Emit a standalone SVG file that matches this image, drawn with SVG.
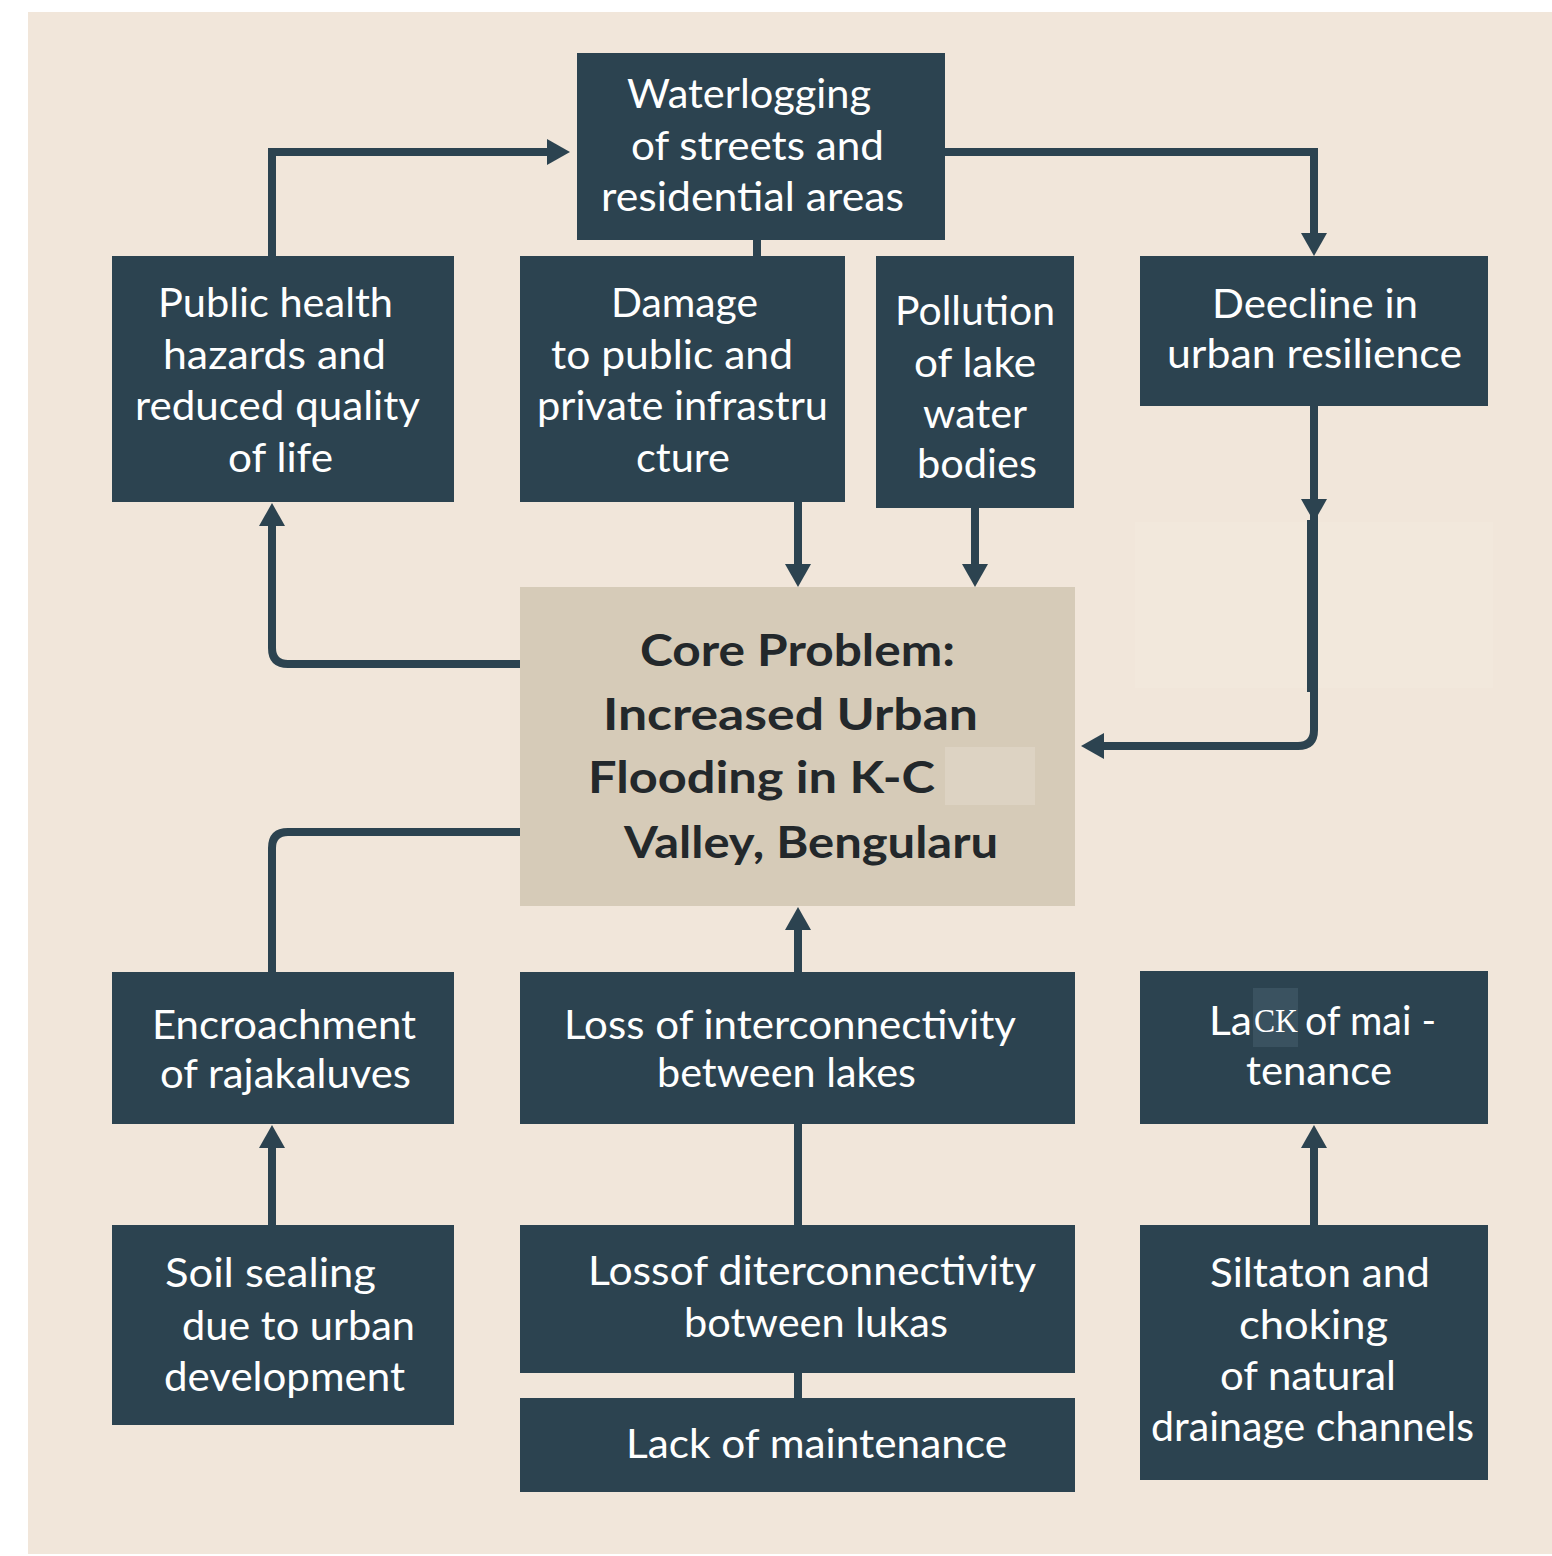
<svg xmlns="http://www.w3.org/2000/svg" width="1552" height="1556" viewBox="0 0 1552 1556">
<defs>
<style>
.node{fill:#2C4350;}
.core{fill:#D6CBB8;}
.t{font-family:Lato,"Open Sans","Noto Sans",sans-serif;font-size:40px;fill:#FFFFFF;}
.tc{font-family:Lato,"Open Sans","Noto Sans",sans-serif;font-size:44px;font-weight:bold;fill:#23282B;}
.ts{font-family:"Liberation Serif","DejaVu Serif",serif;font-size:34px;fill:#FFFFFF;}
.c{fill:none;stroke:#2C4350;stroke-width:8;}
</style>
<marker id="ah" markerUnits="userSpaceOnUse" markerWidth="24" markerHeight="26" refX="0" refY="13" orient="auto">
<path d="M0,0 L23,13 L0,26 Z" fill="#2C4350"/>
</marker>
</defs>
<rect x="0" y="0" width="1552" height="1556" fill="#FFFFFF"/>
<rect x="28" y="12" width="1524" height="1542" fill="#F1E6DA"/>
<rect x="1135" y="522" width="358" height="166" fill="#F2E8DC"/>

<g id="connectors">
<path class="c" d="M272,256 V152 H547" marker-end="url(#ah)"/>
<path class="c" d="M945,152 H1314 V233" marker-end="url(#ah)"/>
<path class="c" d="M757,240 V256"/>
<path class="c" d="M798,502 V564" marker-end="url(#ah)"/>
<path class="c" d="M975,508 V564" marker-end="url(#ah)"/>
<path class="c" d="M1314,406 V499" marker-end="url(#ah)"/>
<path class="c" d="M1314,499 V730 Q1314,746 1298,746 H1104" marker-end="url(#ah)"/>
<path class="c" d="M1312,520 V692" style="stroke-width:10"/>
<path class="c" d="M520,664 H288 Q272,664 272,648 V526" marker-end="url(#ah)"/>
<path class="c" d="M520,832 H288 Q272,832 272,848 V972"/>
<path class="c" d="M798,972 V930" marker-end="url(#ah)"/>
<path class="c" d="M272,1225 V1148" marker-end="url(#ah)"/>
<path class="c" d="M798,1124 V1225"/>
<path class="c" d="M798,1373 V1398"/>
<path class="c" d="M1314,1225 V1148" marker-end="url(#ah)"/>
</g>

<g id="waterlogging">
<rect class="node" x="577" y="53" width="368" height="187"/>
<text class="t" x="627" y="108" textLength="244" lengthAdjust="spacingAndGlyphs">Waterlogging</text>
<text class="t" x="631" y="160" textLength="253" lengthAdjust="spacingAndGlyphs">of streets and</text>
<text class="t" x="601" y="211" textLength="303" lengthAdjust="spacingAndGlyphs">residential areas</text>
</g>

<g id="public-health">
<rect class="node" x="112" y="256" width="342" height="246"/>
<text class="t" x="158" y="317" textLength="235" lengthAdjust="spacingAndGlyphs">Public health</text>
<text class="t" x="163" y="369" textLength="223" lengthAdjust="spacingAndGlyphs">hazards and</text>
<text class="t" x="135" y="420" textLength="285" lengthAdjust="spacingAndGlyphs">reduced quality</text>
<text class="t" x="228" y="472" textLength="105" lengthAdjust="spacingAndGlyphs">of life</text>
</g>

<g id="damage">
<rect class="node" x="520" y="256" width="325" height="246"/>
<text class="t" x="611" y="317" textLength="147" lengthAdjust="spacingAndGlyphs">Damage</text>
<text class="t" x="551" y="369" textLength="242" lengthAdjust="spacingAndGlyphs">to public and</text>
<text class="t" x="537" y="420" textLength="291" lengthAdjust="spacingAndGlyphs">private infrastru</text>
<text class="t" x="636" y="472" textLength="94" lengthAdjust="spacingAndGlyphs">cture</text>
</g>

<g id="pollution">
<rect class="node" x="876" y="256" width="198" height="252"/>
<text class="t" x="895" y="325" textLength="160" lengthAdjust="spacingAndGlyphs">Pollution</text>
<text class="t" x="914" y="377" textLength="122" lengthAdjust="spacingAndGlyphs">of lake</text>
<text class="t" x="923" y="428" textLength="104" lengthAdjust="spacingAndGlyphs">water</text>
<text class="t" x="917" y="478" textLength="120" lengthAdjust="spacingAndGlyphs">bodies</text>
</g>

<g id="decline">
<rect class="node" x="1140" y="256" width="348" height="150"/>
<text class="t" x="1212" y="318" textLength="206" lengthAdjust="spacingAndGlyphs">Deecline in</text>
<text class="t" x="1167" y="368" textLength="295" lengthAdjust="spacingAndGlyphs">urban resilience</text>
</g>

<g id="core-problem">
<rect class="core" x="520" y="587" width="555" height="319"/>
<rect x="945" y="747" width="90" height="58" fill="#DDD3C3"/>
<text class="tc" x="640" y="666" textLength="315" lengthAdjust="spacingAndGlyphs">Core Problem:</text>
<text class="tc" x="603" y="730" textLength="375" lengthAdjust="spacingAndGlyphs">Increased Urban</text>
<text class="tc" x="588" y="793" textLength="347" lengthAdjust="spacingAndGlyphs">Flooding in K-C</text>
<text class="tc" x="624" y="858" textLength="374" lengthAdjust="spacingAndGlyphs">Valley, Bengularu</text>
</g>

<g id="encroachment">
<rect class="node" x="112" y="972" width="342" height="152"/>
<text class="t" x="152" y="1039" textLength="264" lengthAdjust="spacingAndGlyphs">Encroachment</text>
<text class="t" x="160" y="1088" textLength="251" lengthAdjust="spacingAndGlyphs">of rajakaluves</text>
</g>

<g id="loss-interconnectivity">
<rect class="node" x="520" y="972" width="555" height="152"/>
<text class="t" x="564" y="1039" textLength="452" lengthAdjust="spacingAndGlyphs">Loss of interconnectivity</text>
<text class="t" x="657" y="1087" textLength="259" lengthAdjust="spacingAndGlyphs">between lakes</text>
</g>

<g id="lack-of-mai-tenance">
<rect class="node" x="1140" y="971" width="348" height="153"/>
<rect x="1253" y="988" width="45" height="59" fill="#3A5260"/>
<text class="t" x="1209" y="1035" textLength="43" lengthAdjust="spacingAndGlyphs">La</text>
<text class="ts" x="1254" y="1032" textLength="44" lengthAdjust="spacingAndGlyphs">CK</text>
<text class="t" x="1305" y="1035" textLength="131" lengthAdjust="spacingAndGlyphs">of mai -</text>
<text class="t" x="1246" y="1085" textLength="146" lengthAdjust="spacingAndGlyphs">tenance</text>
</g>

<g id="soil-sealing">
<rect class="node" x="112" y="1225" width="342" height="200"/>
<text class="t" x="165" y="1287" textLength="211" lengthAdjust="spacingAndGlyphs">Soil sealing</text>
<text class="t" x="182" y="1340" textLength="233" lengthAdjust="spacingAndGlyphs">due to urban</text>
<text class="t" x="164" y="1391" textLength="241" lengthAdjust="spacingAndGlyphs">development</text>
</g>

<g id="loss-diterconnectivity">
<rect class="node" x="520" y="1225" width="555" height="148"/>
<text class="t" x="588" y="1285" textLength="448" lengthAdjust="spacingAndGlyphs">Lossof diterconnectivity</text>
<text class="t" x="684" y="1337" textLength="264" lengthAdjust="spacingAndGlyphs">botween lukas</text>
</g>

<g id="lack-of-maintenance">
<rect class="node" x="520" y="1398" width="555" height="94"/>
<text class="t" x="626" y="1458" textLength="381" lengthAdjust="spacingAndGlyphs">Lack of maintenance</text>
</g>

<g id="siltation">
<rect class="node" x="1140" y="1225" width="348" height="255"/>
<text class="t" x="1210" y="1287" textLength="220" lengthAdjust="spacingAndGlyphs">Siltaton and</text>
<text class="t" x="1239" y="1339" textLength="149" lengthAdjust="spacingAndGlyphs">choking</text>
<text class="t" x="1220" y="1390" textLength="176" lengthAdjust="spacingAndGlyphs">of natural</text>
<text class="t" x="1151" y="1441" textLength="323" lengthAdjust="spacingAndGlyphs">drainage channels</text>
</g>
</svg>
